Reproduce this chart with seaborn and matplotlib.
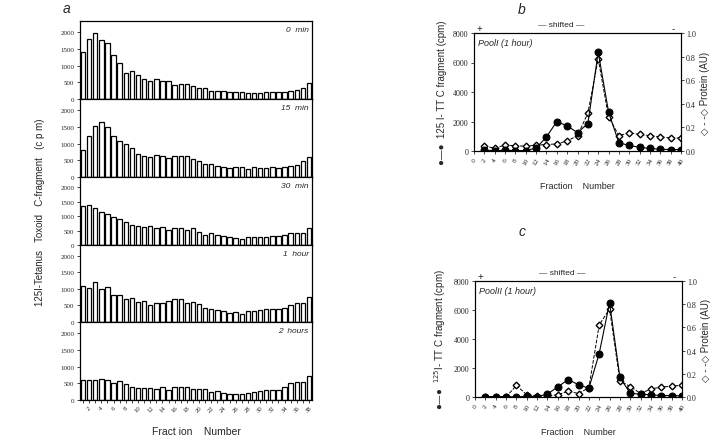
import matplotlib
matplotlib.use('Agg')
import matplotlib.pyplot as plt
import seaborn as sns

# panel a: fractions 1..38, cpm per time point
fractions_a = list(range(1, 39))
min0 = [1400, 1780, 1980, 1770, 1670, 1300, 1090, 780, 830, 710, 600, 540, 590, 550, 550,
        420, 460, 460, 380, 330, 320, 250, 250, 230, 210, 210, 210, 190, 190, 170,
        210, 210, 210, 210, 240, 260, 340, 490]
min15 = [820, 1210, 1530, 1630, 1480, 1210, 1080, 980, 870, 690, 640, 600, 660, 640, 580,
         640, 620, 620, 530, 480, 400, 390, 330, 290, 270, 290, 300, 250, 290, 270,
         270, 290, 270, 310, 330, 370, 480, 600]
min30 = [1330, 1380, 1270, 1140, 1060, 970, 880, 810, 690, 670, 620, 640, 600, 620, 530,
         600, 600, 530, 570, 460, 360, 410, 360, 320, 270, 250, 210, 290, 260, 290,
         270, 320, 320, 340, 400, 420, 420, 600]
hour1 = [1080, 1030, 1200, 990, 1060, 820, 820, 690, 720, 600, 630, 500, 590, 570, 630,
         700, 700, 570, 610, 550, 420, 400, 360, 320, 270, 300, 230, 340, 340, 360,
         390, 390, 390, 410, 520, 590, 570, 760]
hour2 = [600, 610, 600, 620, 600, 520, 560, 470, 400, 370, 370, 350, 320, 390, 310,
         390, 380, 380, 340, 320, 330, 240, 270, 200, 190, 190, 170, 200, 230, 260,
         300, 300, 300, 390, 500, 540, 530, 710]
time_labels = ['0  min', '15  min', '30  min', '1  hour', '2  hours']

# panels b and c: fractions 2..40
fractions_bc = list(range(2, 41, 2))
pool1_cpm = [50, 30, 50, 30, 30, 200, 950, 2000, 1700, 1250, 1850, 6700, 2650, 550,
             380, 250, 170, 120, 100, 100]
pool1_prot = [0.04, 0.025, 0.05, 0.045, 0.04, 0.05, 0.055, 0.06, 0.085, 0.13, 0.32,
              0.78, 0.29, 0.13, 0.155, 0.14, 0.13, 0.12, 0.11, 0.11]
pool2_cpm = [30, 30, 30, 0, 50, 30, 200, 700, 1200, 850, 600, 3000, 6500, 1350,
             250, 200, 150, 100, 100, 80]
pool2_prot = [0.0, 0.0, 0.0, 0.1, 0.02, 0.01, 0.01, 0.02, 0.05, 0.03, 0.08, 0.62,
              0.76, 0.14, 0.09, 0.03, 0.07, 0.085, 0.095, 0.1]

sns.set_style('white')
plt.rcParams['font.family'] = ['Liberation Sans', 'DejaVu Sans']
SERIF = 'Liberation Serif'

W, H = 720, 439
fig = plt.figure(figsize=(7.2, 4.39), dpi=100)


def box(l, t, r, b):
    return [l / W, 1 - b / H, (r - l) / W, (b - t) / H]


# ---- panel a ----
edges = [22, 100, 178, 246, 323, 401]
series = [min0, min15, min30, hour1, hour2]
for i, vals in enumerate(series):
    ax = fig.add_axes(box(80, edges[i], 312, edges[i + 1]))
    sns.barplot(x=fractions_a, y=vals, native_scale=True, color='white',
                edgecolor='black', linewidth=0.9, width=0.72, ax=ax)
    ax.set_xlim(0.5, 38.5)
    ax.set_ylim(0, 2330 if i != 2 else 2345)
    ax.set_yticks([0, 500, 1000, 1500, 2000])
    ax.set_yticklabels(['0', '500', '1000', '1500', '2000'], fontsize=5, family=SERIF)
    ax.tick_params(axis='y', left=True, length=2.5, width=0.6, pad=1.5)
    for s in ax.spines.values():
        s.set_linewidth(0.9)
        s.set_color('black')
    ax.text(0.985, 0.93, time_labels[i], transform=ax.transAxes, ha='right', va='top',
            fontsize=6, style='italic')
    ax.set_xlabel('')
    ax.set_ylabel('')
    if i < 4:
        ax.tick_params(axis='x', bottom=False, labelbottom=False)
    else:
        ax.set_xticks(fractions_a)
        ax.set_xticklabels([str(f) if f % 2 == 0 else '' for f in fractions_a],
                           rotation=45, fontsize=4.8, family=SERIF)
        ax.tick_params(axis='x', bottom=True, length=2.5, width=0.6, pad=1)

fig.text(40 / W, 1 - 212 / H, '125I-Tetanus   Toxoid   C-fragment   (c p m)',
         rotation=90, ha='center', va='center', fontsize=7)
fig.text(196 / W, 1 - 432 / H, 'Fract ion    Number', ha='center', va='center', fontsize=7.5)
fig.text(67 / W, 1 - 9 / H, 'a', ha='center', va='center', fontsize=10, style='italic')


# ---- panels b and c ----
def chrom_panel(rect, cpm, prot, pool, ylab, letter_y, letter):
    ax = fig.add_axes(rect)
    ax2 = ax.twinx()
    sns.lineplot(x=fractions_bc, y=prot, ax=ax2, color='black', linestyle='--',
                 linewidth=0.7, marker='D', markersize=3.4, markerfacecolor='white',
                 markeredgecolor='black', markeredgewidth=1.0)
    sns.lineplot(x=fractions_bc, y=cpm, ax=ax, color='black', linewidth=0.8,
                 marker='o', markersize=5, markeredgecolor='black')
    ax.set_zorder(ax2.get_zorder() + 1)
    ax.patch.set_visible(False)
    ax.set_xlim(0, 40)
    ax.set_ylim(0, 8000)
    ax2.set_ylim(0, 1.0)
    ax.set_xticks(range(0, 41, 2))
    ax.set_xticklabels([str(v) for v in range(0, 41, 2)], rotation=60, fontsize=5.3,
                       family=SERIF)
    ax.set_yticks([0, 2000, 4000, 6000, 8000])
    ax.set_yticklabels(['0', '2000', '4000', '6000', '8000'], fontsize=5.8, family=SERIF)
    ax2.set_yticks([0, 0.2, 0.4, 0.6, 0.8, 1.0])
    ax2.set_yticklabels(['0.0', '0.2', '0.4', '0.6', '0.8', '1.0'], fontsize=5.8,
                        family=SERIF)
    ax.tick_params(axis='both', bottom=True, left=True, length=2.5, width=0.6, pad=1.5)
    ax2.tick_params(axis='y', right=True, length=2.5, width=0.6, pad=1)
    for a in (ax, ax2):
        for s in a.spines.values():
            s.set_linewidth(0.8)
            s.set_color('black')
    ax.set_xlabel('Fraction    Number', fontsize=6.5, labelpad=11)
    ax.set_ylabel('\u25cf\u2014\u25cf  ' + ylab, fontsize=7, labelpad=4)
    ax2.set_ylabel('\u25c7 - -\u25c7 Protein (AU)', fontsize=7, labelpad=3)
    ax.text(0.02, 0.96, pool, transform=ax.transAxes, ha='left', va='top',
            fontsize=6.5, style='italic')
    ax.text(0.01, 1.0, '+', transform=ax.transAxes, ha='left', va='bottom', fontsize=7)
    ax.text(0.97, 1.0, '-', transform=ax.transAxes, ha='right', va='bottom', fontsize=7)
    ax.text(0.42, 1.04, '\u2014 shifted \u2014', transform=ax.transAxes, ha='center',
            va='bottom', fontsize=6)
    fig.text(522 / W, 1 - letter_y / H, letter, ha='center', va='center', fontsize=10,
             style='italic')


chrom_panel(box(474, 34, 681, 152), pool1_cpm, pool1_prot, 'PoolI (1 hour)',
            '125 I- TT C fragment (cpm)', 10, 'b')
chrom_panel(box(475, 282, 682, 398), pool2_cpm, pool2_prot, 'PoolII (1 hour)',
            '$^{125}$I- TT C fragment (cpm)', 232, 'c')

fig.savefig('out.png', dpi=100)
